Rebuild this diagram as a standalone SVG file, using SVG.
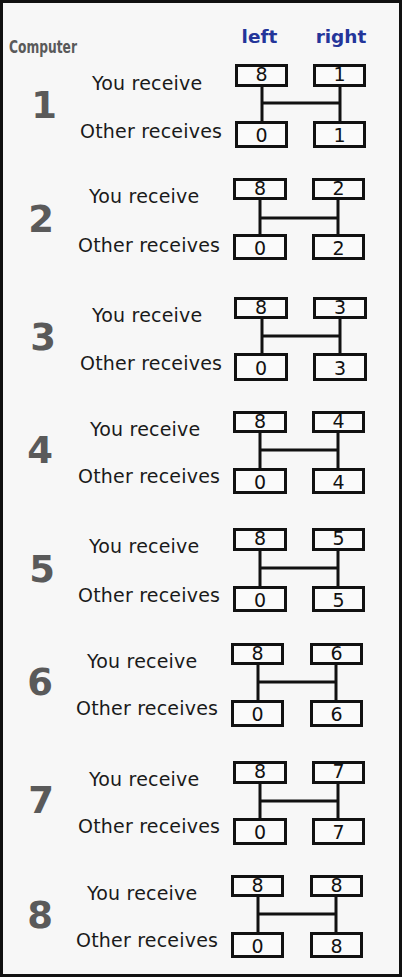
<svg xmlns="http://www.w3.org/2000/svg" width="404" height="979" viewBox="0 0 404 979">
<style>
.bg{fill:#f7f7f7;stroke:#111;stroke-width:3}
.lbl{font-family:"DejaVu Sans",Verdana,sans-serif;font-size:19px;letter-spacing:0.2px;fill:#1a1a1a}
.num{font-family:"DejaVu Sans",Verdana,sans-serif;font-size:37px;font-weight:bold;fill:#5a5a5a;text-anchor:middle}
.hdr{font-family:"DejaVu Sans",Verdana,sans-serif;font-size:18.5px;font-weight:bold;fill:#24359a;text-anchor:middle}
.cmp{font-family:"DejaVu Sans Condensed","DejaVu Sans",sans-serif;font-size:17px;font-weight:bold;fill:#5a5a5a}
.box rect{fill:#fafafa;stroke:#111;stroke-width:3}
.box text{font-family:"DejaVu Sans",Verdana,sans-serif;font-size:19px;fill:#111;text-anchor:middle}
.conn line{stroke:#111;stroke-width:3}
</style>
<rect class="bg" x="1.5" y="1.5" width="399" height="974"/>
<text class="cmp" x="9" y="53" textLength="68" lengthAdjust="spacingAndGlyphs">Computer</text>
<text class="hdr" x="259.5" y="43">left</text>
<text class="hdr" x="341" y="43">right</text>

<g id="computer-1">
<text class="num" x="44" y="118">1</text>
<text class="lbl" x="92" y="90">You receive</text>
<text class="lbl" x="80" y="138">Other receives</text>
<g id="c1-you-left" class="box"><rect x="236.5" y="65.5" width="50" height="20"/><text x="261.5" y="81">8</text></g>
<g id="c1-you-right" class="box"><rect x="314.5" y="65.5" width="50" height="20"/><text x="339.5" y="81">1</text></g>
<g id="c1-other-left" class="box"><rect x="236.5" y="122.5" width="50" height="24"/><text x="261.5" y="142">0</text></g>
<g id="c1-other-right" class="box"><rect x="314.5" y="122.5" width="50" height="24"/><text x="339.5" y="142">1</text></g>
</g>

<g id="computer-2">
<text class="num" x="41" y="232">2</text>
<text class="lbl" x="89" y="203">You receive</text>
<text class="lbl" x="78" y="252">Other receives</text>
<g id="c2-you-left" class="box"><rect x="234.5" y="179.5" width="51" height="19"/><text x="260" y="195">8</text></g>
<g id="c2-you-right" class="box"><rect x="313.5" y="179.5" width="50" height="19"/><text x="338.5" y="195">2</text></g>
<g id="c2-other-left" class="box"><rect x="234.5" y="235.5" width="51" height="23"/><text x="260" y="255">0</text></g>
<g id="c2-other-right" class="box"><rect x="313.5" y="235.5" width="50" height="23"/><text x="338.5" y="255">2</text></g>
</g>

<g id="computer-3">
<text class="num" x="43" y="350">3</text>
<text class="lbl" x="92" y="322">You receive</text>
<text class="lbl" x="80" y="370">Other receives</text>
<g id="c3-you-left" class="box"><rect x="235.5" y="298.5" width="51" height="19"/><text x="261" y="314">8</text></g>
<g id="c3-you-right" class="box"><rect x="314.5" y="298.5" width="51" height="19"/><text x="340" y="314">3</text></g>
<g id="c3-other-left" class="box"><rect x="235.5" y="354.5" width="51" height="25"/><text x="261" y="375">0</text></g>
<g id="c3-other-right" class="box"><rect x="314.5" y="354.5" width="51" height="25"/><text x="340" y="375">3</text></g>
</g>

<g id="computer-4">
<text class="num" x="40" y="463">4</text>
<text class="lbl" x="90" y="436">You receive</text>
<text class="lbl" x="78" y="483">Other receives</text>
<g id="c4-you-left" class="box"><rect x="234.5" y="412.5" width="51" height="19"/><text x="260" y="428">8</text></g>
<g id="c4-you-right" class="box"><rect x="313.5" y="412.5" width="50" height="19"/><text x="338.5" y="428">4</text></g>
<g id="c4-other-left" class="box"><rect x="234.5" y="469.5" width="51" height="23"/><text x="260" y="489">0</text></g>
<g id="c4-other-right" class="box"><rect x="313.5" y="469.5" width="50" height="23"/><text x="338.5" y="489">4</text></g>
</g>

<g id="computer-5">
<text class="num" x="42" y="582">5</text>
<text class="lbl" x="89" y="553">You receive</text>
<text class="lbl" x="78" y="602">Other receives</text>
<g id="c5-you-left" class="box"><rect x="234.5" y="529.5" width="51" height="20"/><text x="260" y="545">8</text></g>
<g id="c5-you-right" class="box"><rect x="313.5" y="529.5" width="50" height="20"/><text x="338.5" y="545">5</text></g>
<g id="c5-other-left" class="box"><rect x="234.5" y="587.5" width="51" height="23"/><text x="260" y="607">0</text></g>
<g id="c5-other-right" class="box"><rect x="313.5" y="587.5" width="50" height="23"/><text x="338.5" y="607">5</text></g>
</g>

<g id="computer-6">
<text class="num" x="40" y="695">6</text>
<text class="lbl" x="87" y="668">You receive</text>
<text class="lbl" x="76" y="715">Other receives</text>
<g id="c6-you-left" class="box"><rect x="232.5" y="644.5" width="50" height="19"/><text x="257.5" y="660">8</text></g>
<g id="c6-you-right" class="box"><rect x="311.5" y="644.5" width="50" height="19"/><text x="336.5" y="660">6</text></g>
<g id="c6-other-left" class="box"><rect x="232.5" y="701.5" width="50" height="24"/><text x="257.5" y="721">0</text></g>
<g id="c6-other-right" class="box"><rect x="311.5" y="701.5" width="50" height="24"/><text x="336.5" y="721">6</text></g>
</g>

<g id="computer-7">
<text class="num" x="41" y="813">7</text>
<text class="lbl" x="89" y="786">You receive</text>
<text class="lbl" x="78" y="833">Other receives</text>
<g id="c7-you-left" class="box"><rect x="234.5" y="762.5" width="51" height="20"/><text x="260" y="778">8</text></g>
<g id="c7-you-right" class="box"><rect x="313.5" y="762.5" width="50" height="20"/><text x="338.5" y="778">7</text></g>
<g id="c7-other-left" class="box"><rect x="234.5" y="819.5" width="51" height="24"/><text x="260" y="839">0</text></g>
<g id="c7-other-right" class="box"><rect x="313.5" y="819.5" width="50" height="24"/><text x="338.5" y="839">7</text></g>
</g>

<g id="computer-8">
<text class="num" x="40" y="928">8</text>
<text class="lbl" x="87" y="900">You receive</text>
<text class="lbl" x="76" y="947">Other receives</text>
<g id="c8-you-left" class="box"><rect x="232.5" y="876.5" width="50" height="19"/><text x="257.5" y="892">8</text></g>
<g id="c8-you-right" class="box"><rect x="311.5" y="876.5" width="50" height="19"/><text x="336.5" y="892">8</text></g>
<g id="c8-other-left" class="box"><rect x="232.5" y="933.5" width="50" height="23"/><text x="257.5" y="953">0</text></g>
<g id="c8-other-right" class="box"><rect x="311.5" y="933.5" width="50" height="23"/><text x="336.5" y="953">8</text></g>
</g>

<g id="connectors" class="conn">
<line x1="262" y1="87" x2="262" y2="121"/><line x1="340" y1="87" x2="340" y2="121"/><line x1="262" y1="103" x2="340" y2="103"/>
<line x1="260" y1="200" x2="260" y2="234"/><line x1="338" y1="200" x2="338" y2="234"/><line x1="260" y1="218" x2="338" y2="218"/>
<line x1="262" y1="319" x2="262" y2="353"/><line x1="340" y1="319" x2="340" y2="353"/><line x1="262" y1="336" x2="340" y2="336"/>
<line x1="260" y1="433" x2="260" y2="468"/><line x1="338" y1="433" x2="338" y2="468"/><line x1="260" y1="450" x2="338" y2="450"/>
<line x1="260" y1="551" x2="260" y2="586"/><line x1="338" y1="551" x2="338" y2="586"/><line x1="260" y1="568" x2="338" y2="568"/>
<line x1="258" y1="665" x2="258" y2="700"/><line x1="336" y1="665" x2="336" y2="700"/><line x1="258" y1="682" x2="336" y2="682"/>
<line x1="260" y1="784" x2="260" y2="818"/><line x1="338" y1="784" x2="338" y2="818"/><line x1="260" y1="801" x2="338" y2="801"/>
<line x1="258" y1="897" x2="258" y2="932"/><line x1="336" y1="897" x2="336" y2="932"/><line x1="258" y1="914" x2="336" y2="914"/>
</g>
</svg>
